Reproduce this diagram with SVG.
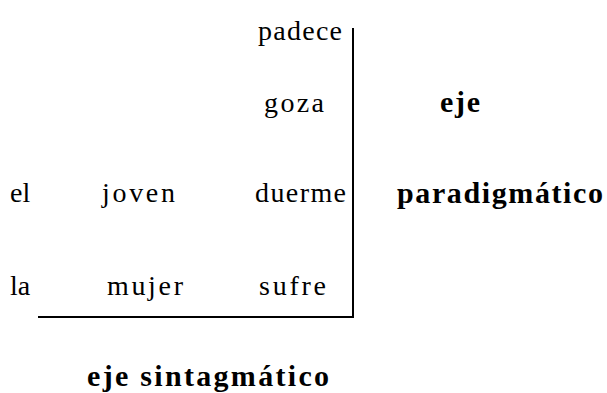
<svg xmlns="http://www.w3.org/2000/svg" width="607" height="393" viewBox="0 0 607 393">
  <style>
    .w { font-family: "Liberation Serif", "Times New Roman", serif; font-size: 28px; fill: #000; }
    .b { font-family: "Liberation Serif", "Times New Roman", serif; font-size: 30px; font-weight: bold; fill: #000; }
    .axis { stroke: #000; stroke-width: 2; fill: none; }
  </style>
  <rect width="607" height="393" fill="#fff"/>
  <!-- paradigmatic (vertical) and syntagmatic (horizontal) axes -->
  <g id="connectors">
    <path class="axis" d="M353 28 V317 H38"/>
  </g>
  <g id="w-padece"><text class="w" x="258" y="40" textLength="84">padece</text></g>
  <g id="w-goza"><text class="w" x="264" y="112" textLength="60">goza</text></g>
  <g id="w-el"><text class="w" x="10" y="202">el</text></g>
  <g id="w-joven"><text class="w" x="102" y="202" textLength="73">joven</text></g>
  <g id="w-duerme"><text class="w" x="255" y="202" textLength="91">duerme</text></g>
  <g id="w-la"><text class="w" x="10" y="295">la</text></g>
  <g id="w-mujer"><text class="w" x="107" y="295" textLength="76">mujer</text></g>
  <g id="w-sufre"><text class="w" x="259" y="295" textLength="67">sufre</text></g>
  <g id="label-eje"><text class="b" x="440" y="112" textLength="40">eje</text></g>
  <g id="label-paradigmatico"><text class="b" x="397" y="203" textLength="206">paradigmático</text></g>
  <g id="label-sintagmatico"><text class="b" x="87" y="386" textLength="242">eje sintagmático</text></g>
</svg>
